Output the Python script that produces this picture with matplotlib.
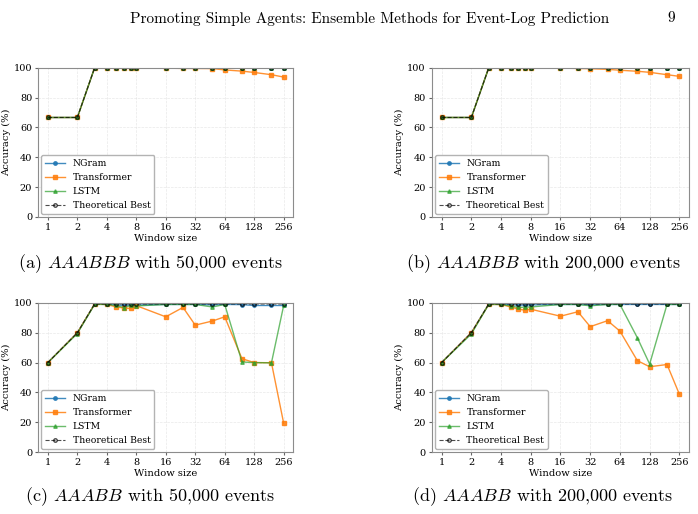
import numpy as np
import matplotlib
matplotlib.use("Agg")
import matplotlib.pyplot as plt

plt.rcParams['font.family'] = 'DejaVu Serif'
plt.rcParams['mathtext.fontset'] = 'cm'

window = [1, 2, 3, 4, 5, 6, 7, 8, 16, 24, 32, 48, 64, 96, 128, 192, 256]
ticks = [1, 2, 4, 8, 16, 32, 64, 128, 256]

# (a) AAABBB, 50,000 events
a_theory = [66.7, 66.7] + [100] * 15
a_ngram = [66.7, 66.7] + [100] * 15
a_lstm = [66.7, 66.7] + [100] * 15
a_trans = [66.7, 66.7, 100, 100, 100, 100, 100, 100, 99.8, 99.6, 99.6, 99.5,
           98.6, 97.8, 96.9, 95.4, 93.8]

# (b) AAABBB, 200,000 events
b_theory = [66.7, 66.7] + [100] * 15
b_ngram = [66.7, 66.7] + [100] * 15
b_lstm = [66.7, 66.7] + [100] * 15
b_trans = [66.7, 66.7, 100, 100, 100, 100, 100, 100, 99.8, 99.6, 99.4, 99.0,
           98.4, 97.7, 97.0, 95.4, 94.3]

# (c) AAABB, 50,000 events
c_theory = [60, 80] + [99.3] * 15
c_ngram = [60, 80, 99.2, 99.0, 98.6, 98.4, 98.6, 98.6, 99.0, 99.0, 99.0, 98.7,
           99.0, 98.9, 98.3, 98.3, 98.3]
c_lstm = [60, 79.5, 99.0, 99.0, 98.3, 96.9, 98.3, 98.0, 99.0, 99.0, 99.0, 97.3,
          99.0, 60.4, 60.0, 59.8, 98.3]
c_trans = [60, 80, 99.2, 99.0, 97.3, 96.6, 96.3, 98.2, 90.7, 97.0, 85.1, 87.9,
           90.7, 62.6, 60.0, 59.9, 19.3]

# (d) AAABB, 200,000 events
d_theory = [60, 80] + [99.3] * 15
d_ngram = [60, 80, 99.2, 99.0, 98.8, 98.5, 98.6, 98.7, 99.0, 99.0, 98.8, 99.0,
           99.0, 99.0, 99.0, 99.0, 99.0]
d_lstm = [60, 79.2, 99.0, 99.0, 98.0, 97.0, 97.2, 97.3, 99.0, 99.0, 98.1, 99.0,
          99.0, 76.7, 59.0, 99.0, 99.0]
d_trans = [60, 80, 99.0, 99.0, 97.3, 95.9, 95.1, 95.8, 91.1, 94.1, 84.1, 88.1,
           81.1, 61.3, 57.2, 58.7, 38.8]

panels = [
    ([0.055, 0.578, 0.365, 0.29], a_ngram, a_trans, a_lstm, a_theory,
     r"(a) $AAABBB$ with 50,000 events", (0.215, 0.488)),
    ([0.619, 0.578, 0.368, 0.29], b_ngram, b_trans, b_lstm, b_theory,
     r"(b) $AAABBB$ with 200,000 events", (0.778, 0.488)),
    ([0.055, 0.1206, 0.365, 0.29], c_ngram, c_trans, c_lstm, c_theory,
     r"(c) $AAABB$ with 50,000 events", (0.215, 0.033)),
    ([0.619, 0.1206, 0.368, 0.29], d_ngram, d_trans, d_lstm, d_theory,
     r"(d) $AAABB$ with 200,000 events", (0.778, 0.033)),
]

fig = plt.figure(figsize=(6.98, 5.14), dpi=100)

fig.text(0.53, 0.978, "Promoting Simple Agents: Ensemble Methods for Event-Log Prediction",
         family='cmr10', fontsize=11, ha='center', va='top')
fig.text(0.962, 0.978, "9", family='cmr10', fontsize=11, ha='center', va='top')

for rect, ngram, trans, lstm, theory, caption, cpos in panels:
    ax = fig.add_axes(rect)
    ax.plot(window, ngram, marker='o', ms=2.5, lw=1, color='tab:blue', alpha=0.85, label='NGram')
    ax.plot(window, trans, marker='s', ms=2.5, lw=1, color='tab:orange', alpha=0.85, label='Transformer')
    ax.plot(window, lstm, marker='^', ms=2.5, lw=1, color='tab:green', alpha=0.7, label='LSTM')
    ax.plot(window, theory, marker='o', ms=2.5, lw=0.8, ls='--', color='k', mfc='none',
            alpha=0.7, label='Theoretical Best')
    ax.set_xscale('log', base=2)
    ax.set_xticks(ticks)
    ax.set_xticklabels([str(t) for t in ticks])
    ax.minorticks_off()
    ax.set_xlim(0.8, 320)
    ax.set_ylim(0, 100)
    ax.set_yticks([0, 20, 40, 60, 80, 100])
    ax.tick_params(labelsize=7, length=2.5, pad=2, color='0.4')
    ax.set_xlabel('Window size', fontsize=7.2, labelpad=1)
    ax.set_ylabel('Accuracy (%)', fontsize=7.2, labelpad=2)
    ax.grid(True, ls='--', lw=0.5, color='0.85', alpha=0.6)
    for s in ax.spines.values():
        s.set_color('0.55')
    ax.legend(loc='lower left', fontsize=6.7, borderaxespad=0.3, handlelength=2.2,
              labelspacing=0.55, edgecolor='0.7', framealpha=1)
    fig.text(cpos[0], cpos[1], caption, family='cmr10', fontsize=13, ha='center', va='center')

fig.savefig('out.png', dpi=100)
